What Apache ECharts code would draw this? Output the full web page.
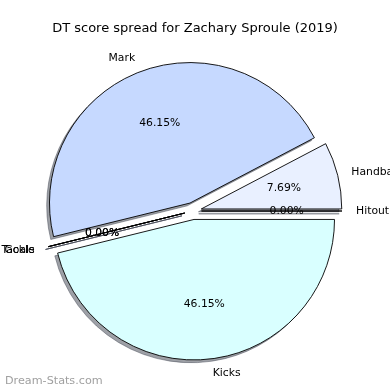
<!DOCTYPE html>
<html><head><meta charset="utf-8">
<script src="https://cdn.jsdelivr.net/npm/echarts@6/dist/echarts.min.js"></script>
<style>html,body{margin:0;padding:0;background:#fff}#c{width:390px;height:390px}</style>
</head><body><div id="c"></div>
<script>
const categories = ['Handball', 'Mark', 'Tackle', 'Goals', 'Kicks', 'Hitout'];
const values = [2, 12, 0, 0, 12, 0];
const colors = ['#e9f0ff', '#c6d9ff', '#c9dcff', '#d0e0ff', '#d9ffff', '#f0f8ff'];
const titleText = 'DT score spread for Zachary Sproule (2019)';
const watermarkText = 'Dream-Stats.com';

const FONT = 'DejaVu Sans';
const CX = 193, CY = 211, R = 140.5, EXPLODE = 8.5, SHADOW = 2.8;
const total = values.reduce((a, b) => a + b, 0);
const hidden = { color: 'transparent', borderWidth: 0, shadowColor: 'transparent' };
const shadowSeries = [], pieSeries = [], pctSeries = [];
let cum = 0;
categories.forEach((name, i) => {
  const start = cum / total * 360;
  cum += values[i];
  const end = cum / total * 360;
  const mid = (start + end) / 2 * Math.PI / 180;
  const center = [CX + EXPLODE * Math.cos(mid), CY - EXPLODE * Math.sin(mid)];
  const common = {
    type: 'pie', startAngle: 0, clockwise: false, silent: true,
    avoidLabelOverlap: false, animation: false, emphasis: { disabled: true },
    labelLayout: { hideOverlap: false, moveOverlap: null },
    labelLine: { show: false, length: R * 0.1, length2: 0 }
  };
  shadowSeries.push(Object.assign({}, common, {
    center: [center[0] - SHADOW, center[1] + SHADOW], radius: [0, R], z: 1,
    data: categories.map((n, j) => ({
      name: n, value: values[j],
      itemStyle: j === i ? { color: 'rgba(59,65,77,0.5)', borderColor: 'rgba(59,65,77,0.5)', borderWidth: 0.9 } : hidden
    })),
    label: { show: false }
  }));
  pieSeries.push(Object.assign({}, common, {
    center, radius: [0, R], z: 2,
    data: categories.map((n, j) => ({
      name: n, value: values[j],
      itemStyle: j === i ? { color: colors[j], borderColor: '#000', borderWidth: 0.9 } : hidden,
      label: { show: j === i }
    })),
    label: {
      position: 'outside', distanceToLabelLine: 0, color: '#000',
      fontFamily: FONT, fontSize: 10.8, width: 120, overflow: 'none',
      formatter: p => p.name
    }
  }));
  pctSeries.push(Object.assign({}, common, {
    center, radius: [0, R * 1.17], z: 5,
    data: categories.map((n, j) => ({
      name: n, value: values[j], itemStyle: hidden, label: { show: j === i }
    })),
    label: {
      position: 'inside', color: '#000', fontFamily: FONT, fontSize: 10.8,
      formatter: p => (values[p.dataIndex] / total * 100).toFixed(2) + '%'
    }
  }));
});

const chart = echarts.init(document.getElementById('c'), null, { renderer: 'canvas' });
chart.setOption({
  backgroundColor: '#fff',
  animation: false,
  title: [
    { text: titleText, left: 'center', top: 17,
      textStyle: { fontFamily: FONT, fontSize: 13, fontWeight: 'normal', color: '#000' } },
    { text: watermarkText, left: 0, top: 371,
      textStyle: { fontFamily: FONT, fontSize: 11.2, fontWeight: 'normal', color: '#a0a0a0' } }
  ],
  series: shadowSeries.concat(pieSeries, pctSeries)
});
</script></body></html>
